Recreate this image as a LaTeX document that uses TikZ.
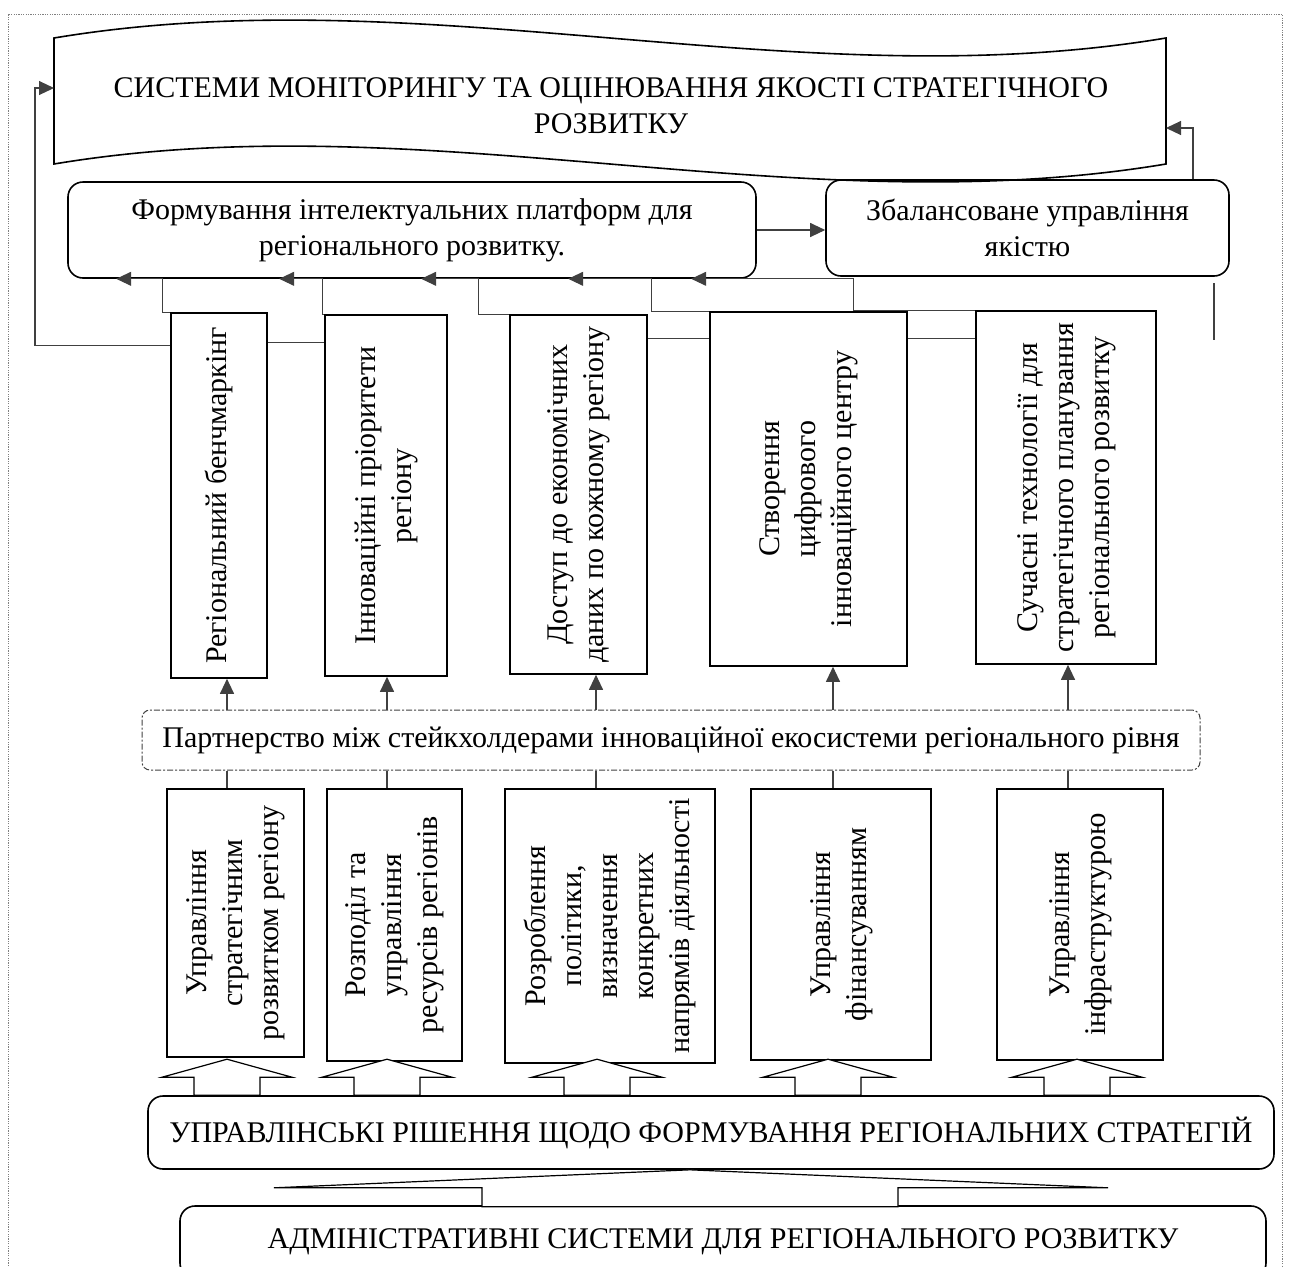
\documentclass[tikz,border=0pt]{standalone}
\usepackage{fontspec}
\setmainfont{Liberation Serif}
\usetikzlibrary{arrows.meta}
\newcommand{\vtxt}[1]{\rotatebox{90}{\begin{tabular}{@{}c@{}}#1\end{tabular}}}

\begin{document}
\begin{tikzpicture}[x=0.5pt, y=-0.5pt,
    font=\fontsize{15}{18}\selectfont,
    >={Triangle[length=7.5pt,width=7pt]},
    box/.style={draw, line width=0.8pt, inner sep=0pt},
    rbox/.style={box, rounded corners=7.5pt, align=center},
    link/.style={draw=black!75, line width=0.55pt},
    arr/.style={link, ->},
    blk/.style={draw, line width=0.6pt, fill=white}]
    \useasboundingbox (0,0) rectangle (1292,1266);

    % Draw dotted frame
    \draw[gray, line width=0.4pt, dash pattern=on 0.6pt off 0.6pt] (8,1266) -- (8,14) -- (1282,14) -- (1282,1266);

    % Draw title banner
    \draw[line width=0.8pt] (54,38) .. controls (425,-24) and (795,100) .. (1166,38) -- (1166,164) .. controls (795,226) and (425,102) .. (54,164) -- cycle;
    \node[align=center] (title) at (611,106) {СИСТЕМИ МОНІТОРИНГУ ТА ОЦІНЮВАННЯ ЯКОСТІ СТРАТЕГІЧНОГО\\РОЗВИТКУ};
    \coordinate (bannerL) at (54,88);
    \coordinate (bannerR) at (1166,128);

    % Platform and quality boxes
    \node[rbox, minimum width=344pt, minimum height=48pt] (plat) at (412,230) {Формування інтелектуальних платформ для\\регіонального розвитку.};
    \node[rbox, minimum width=201.5pt, minimum height=48pt] (qual) at (1027.5,228) {Збалансоване управління\\якістю};

    % Top row boxes
    \node[box, minimum width=48pt, minimum height=182.5pt] (t1) at (219,495.5) {\vtxt{Регіональний бенчмаркінг}};
    \node[box, minimum width=61pt, minimum height=180.5pt] (t2) at (386,495.5) {\vtxt{Інноваційні пріоритети\\регіону}};
    \node[box, minimum width=68.5pt, minimum height=179.5pt] (t3) at (578.5,494.5) {\vtxt{Доступ до економічних\\даних по кожному регіону}};
    \node[box, minimum width=98.5pt, minimum height=177pt] (t4) at (808.5,489) {\vtxt{Створення\\цифрового\\інноваційного центру}};
    \node[box, minimum width=90pt, minimum height=176.5pt] (t5) at (1066,487.5) {\vtxt{Сучасні технології для\\стратегічного планування\\регіонального розвитку}};

    % Partnership box
    \node[rbox, rounded corners=4pt, draw=black!75, line width=0.5pt, dash pattern=on 3pt off 1pt on 1pt off 1pt, minimum width=529pt, minimum height=30pt] (part) at (671,740) {Партнерство між стейкхолдерами інноваційної екосистеми регіонального рівня};

    % Bottom row boxes
    \node[box, minimum width=68.5pt, minimum height=134pt] (m1) at (235.5,923) {\vtxt{Управління\\стратегічним\\розвитком регіону}};
    \node[box, minimum width=67.5pt, minimum height=136pt] (m2) at (394.5,925) {\vtxt{Розподіл та\\управління\\ресурсів регіонів}};
    \node[box, minimum width=105pt, minimum height=137pt] (m3) at (610,926) {\vtxt{Розроблення\\політики,\\визначення\\конкретних\\напрямів діяльності}};
    \node[box, minimum width=90pt, minimum height=135.5pt] (m4) at (841,924.5) {\vtxt{Управління\\фінансуванням}};
    \node[box, minimum width=83pt, minimum height=135.5pt] (m5) at (1080,924.5) {\vtxt{Управління\\інфраструктурою}};

    % Decision and administration boxes
    \node[rbox, minimum width=563pt, minimum height=36.5pt] (dec) at (711,1132.5) {УПРАВЛІНСЬКІ РІШЕННЯ ЩОДО ФОРМУВАННЯ РЕГІОНАЛЬНИХ СТРАТЕГІЙ};
    \node[rbox, minimum width=543pt, minimum height=36pt] (adm) at (723,1242) {АДМІНІСТРАТИВНІ СИСТЕМИ ДЛЯ РЕГІОНАЛЬНОГО РОЗВИТКУ};

    % Links from top boxes to platform
    \foreach \i/\dx/\tx in {1/-8/24.5, 2/-2/106, 3/-31/177, 4/-58/250.5, 5/-122/312}
        \draw[arr] (t\i.north west) -- ++(\dx,0) |- ([xshift=\tx pt]plat.south west);

    % Side links between top boxes
    \foreach \a/\b/\d in {t1/t2/15, t3/t4/12, t4/t5/13.5} {
        \coordinate (h) at ([yshift=-\d pt]\a.north east);
        \draw[link] (h) -- (h -| \b.west);
    }

    % Feedback to the banner
    \coordinate (fb) at (35,0);
    \coordinate (h0) at ([yshift=-16.5pt]t1.north west);
    \draw[arr] (h0) -- (h0 -| fb) |- (bannerL);
    \draw[arr] ([xshift=82.75pt]qual.north) |- (bannerR);
    \draw[arr] (plat.east) -- (plat.east -| qual.west);
    \coordinate (r1) at (1214,283);
    \draw[link] (r1) -- ++(0,57);

    % Partnership links
    \foreach \i/\x in {1/227, 2/387, 3/596, 4/833, 5/1068} {
        \coordinate (c\i) at (\x,0);
        \draw[arr] (part.north -| c\i) -- (t\i.south -| c\i);
        \draw[link] (m\i.north -| c\i) -- (part.south -| c\i);
    }

    % Block arrows
    \foreach \i/\x in {1/227, 2/387, 3/597, 4/828, 5/1077} {
        \coordinate (b\i) at (\x,0);
        \draw[blk] (dec.north -| b\i) -- ++(33,0) -- ++(0,-18) -- ++(32,0) -- ++(-65,-18) -- ++(-65,18) -- ++(32,0) -- ++(0,18) -- cycle;
    }
    \coordinate (bb) at (690,0);
    \draw[blk] (dec.south -| bb) -- ++(418,18) -- ++(-210,0) -- ++(0,19) -- ++(-416,0) -- ++(0,-19) -- ++(-208,0) -- cycle;
\end{tikzpicture}
\end{document}
